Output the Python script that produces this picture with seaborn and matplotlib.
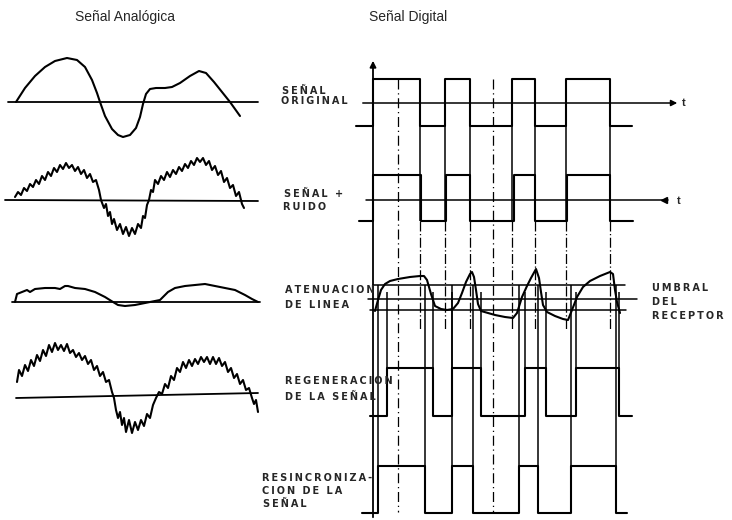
import numpy as np
import pandas as pd
import seaborn as sns
import matplotlib.pyplot as plt

sns.set_style("white")
plt.rcParams['font.family'] = ['Liberation Sans', 'DejaVu Sans']

# --- analog panel curves (x, y in picture units, y grows downward) ---
orig_x = [16, 25, 35, 45, 55, 67, 77, 85, 92, 97, 100, 105, 112, 118, 123, 130, 136, 140,
          143, 146, 150, 156, 165, 172, 180, 190, 199, 206, 214, 222, 230, 235, 240]
orig_y = [102, 88, 76, 67, 61, 58, 60, 67, 80, 93, 102, 116, 129, 135, 137, 135, 128, 117,
          104, 94, 89, 88, 88, 87, 83, 76, 71, 73, 82, 92, 102, 109, 116]

noisy_x = [15, 18, 21, 24, 27, 30, 33, 36, 39, 42, 45, 48, 51, 54, 57, 60, 63, 66, 69, 72,
           75, 78, 81, 84, 87, 90, 93, 96, 99, 101, 104, 106, 108, 110, 112, 114, 117, 120,
           123, 126, 129, 132, 135, 138, 141, 143, 145, 147, 149, 151, 153, 155, 158, 161,
           164, 167, 170, 173, 176, 179, 182, 185, 188, 191, 194, 197, 200, 203, 206, 209,
           212, 215, 218, 221, 224, 227, 230, 233, 236, 239, 242, 244]
noisy_y = [197, 192, 195, 188, 191, 184, 187, 180, 184, 176, 180, 172, 176, 168, 172, 165,
           169, 163, 168, 165, 171, 167, 174, 170, 178, 174, 182, 180, 190, 200, 208, 204,
           216, 212, 224, 219, 230, 224, 234, 227, 236, 228, 234, 224, 228, 216, 218, 205,
           200, 190, 192, 180, 184, 176, 180, 172, 177, 170, 174, 167, 171, 164, 168, 161,
           165, 158, 162, 158, 165, 161, 170, 166, 175, 171, 182, 178, 188, 185, 196, 192,
           204, 208]

atten_x = [15, 17, 22, 27, 30, 35, 45, 55, 60, 65, 68, 75, 85, 95, 105, 113, 118, 125,
           135, 145, 155, 160, 168, 175, 185, 195, 205, 215, 225, 235, 245, 252, 258]
atten_y = [302, 294, 292, 290, 292, 289, 288, 288, 289, 286, 286, 288, 289, 292, 297, 302,
           305, 306, 305, 303, 301, 300, 292, 288, 286, 285, 284, 286, 288, 290, 295, 299, 302]

regen_noisy_x = [17, 19, 22, 25, 28, 31, 34, 37, 40, 43, 46, 49, 52, 55, 58, 61, 64, 67,
                 70, 73, 76, 79, 82, 85, 88, 91, 94, 97, 100, 103, 106, 109, 112, 114, 116,
                 118, 120, 122, 124, 126, 129, 132, 135, 138, 141, 144, 147, 150, 153, 156,
                 159, 162, 165, 168, 171, 174, 177, 180, 183, 186, 189, 192, 195, 198, 201,
                 204, 207, 210, 213, 216, 219, 222, 225, 228, 231, 234, 237, 240, 243, 246,
                 249, 252, 254, 256, 258]
regen_noisy_y = [382, 370, 376, 365, 371, 360, 366, 355, 361, 350, 356, 345, 352, 343, 350,
                 345, 351, 344, 353, 350, 357, 353, 360, 356, 364, 360, 370, 366, 376, 372,
                 382, 380, 392, 398, 410, 418, 412, 425, 418, 432, 420, 433, 422, 430, 420,
                 426, 414, 418, 405, 398, 392, 394, 384, 388, 376, 380, 368, 372, 362, 368,
                 360, 366, 359, 364, 357, 362, 357, 364, 357, 364, 358, 366, 362, 372, 368,
                 378, 374, 384, 380, 390, 388, 398, 404, 400, 412]

# --- digital panel: edge positions of each square wave ---
orig_edges = [373, 420, 445, 470, 512, 535, 566, 610]
noise_edges = [373, 421, 446, 470, 514, 535, 567, 610]
regen_edges = [387, 433, 452, 481, 525, 546, 576, 619]
resync_edges = [378, 425, 452, 473, 519, 538, 571, 616]
clock_x = [398, 493]

line_x = [375, 378, 381, 385, 390, 398, 410, 420, 424, 427, 431, 435, 441, 447, 453, 458,
          462, 466, 470, 472, 474, 476, 478, 481, 488, 495, 505, 513, 517, 522, 527, 531,
          536, 539, 541, 543, 547, 555, 563, 568, 572, 577, 583, 590, 600, 610, 613, 615,
          617, 620]
line_y = [311, 300, 290, 284, 281, 279, 277, 276, 276, 280, 294, 306, 309, 310, 309, 303,
          293, 282, 274, 272, 277, 290, 304, 311, 313, 315, 317, 318, 313, 297, 286, 278,
          269, 278, 292, 305, 312, 316, 319, 320, 310, 297, 287, 281, 276, 272, 274, 290,
          302, 313]

fig = plt.figure(figsize=(7.32, 5.2), dpi=100)
ax = fig.add_axes([0, 0, 1, 1])

K = 'black'
LW = 1.5

# titles
ax.text(125, 17, 'Señal Analógica', ha='center', va='center', fontsize=10)
ax.text(408, 17, 'Señal Digital', ha='center', va='center', fontsize=10)

# analog baselines
for (x0, y0, x1, y1) in [(8, 102, 258, 102), (5, 200, 258, 201),
                         (12, 302, 260, 302), (16, 398, 258, 393)]:
    ax.plot([x0, x1], [y0, y1], color=K, lw=1.3)

for xs, ys in [(orig_x, orig_y), (noisy_x, noisy_y), (atten_x, atten_y),
               (regen_noisy_x, regen_noisy_y)]:
    df = pd.DataFrame({'x': xs, 'y': ys})
    sns.lineplot(data=df, x='x', y='y', sort=False, estimator=None,
                 color=K, lw=LW, ax=ax)


def square(edges, high, low, start, end, lw=LW):
    xs = [start] + edges + [end]
    ys = [low] + [high if i % 2 == 0 else low for i in range(len(edges))] + [low]
    ax.plot(xs, ys, drawstyle='steps-post', color=K, lw=lw)


# vertical axis
ax.annotate('', xy=(373, 58), xytext=(373, 520),
            arrowprops=dict(arrowstyle='-|>', color=K, lw=1.3, mutation_scale=9))

# row 1: original signal
ax.annotate('', xy=(680, 103), xytext=(360, 103),
            arrowprops=dict(arrowstyle='-|>', color=K, lw=1.1, mutation_scale=9))
ax.text(682, 103, 't', fontsize=8, fontweight='bold', va='center')
square(orig_edges, 79, 126, 356, 632)

# row 2: signal + noise
ax.plot([366, 668], [200, 200], color=K, lw=1.1)
ax.plot([664], [200], marker='<', color=K, ms=5)
ax.text(677, 201, 't', fontsize=8, fontweight='bold', va='center')
square(noise_edges, 175, 221, 359, 633)

# edges continue downward
ax.vlines(orig_edges[1:], 79, 221, color=K, lw=1.1)
ax.vlines(orig_edges[1:], 221, 330, color=K, lw=0.9, linestyles=(0, (8, 2, 1, 2)))
ax.vlines(clock_x, 79, 512, color=K, lw=0.9, linestyles=(0, (8, 3, 1, 3)))

# row 3: line attenuation with receiver thresholds
ax.plot([373, 625], [285, 285], color=K, lw=1.1)
ax.plot([368, 637], [299, 299], color=K, lw=1.1)
ax.plot([370, 626], [310, 310], color=K, lw=1.1)
ax.plot(line_x, line_y, color=K, lw=LW)

# row 4: regenerated signal
ax.vlines(regen_edges, 292, 416, color=K, lw=1.1)
square(regen_edges, 368, 416, 370, 632)

# row 5: resynchronised signal
ax.vlines(resync_edges, 285, 513, color=K, lw=1.1)
square(resync_edges, 466, 513, 362, 627)

# hand-lettered labels
lab = dict(fontsize=7, fontweight='bold', va='center', family=['DejaVu Sans'])


def spaced(s):
    return '\u2009'.join(s)


for x, y, s in [(282, 91, 'SEÑAL'), (281, 101, 'ORIGINAL'),
                (284, 194, 'SEÑAL +'), (283, 207, 'RUIDO'),
                (285, 290, 'ATENUACION'), (285, 305, 'DE LINEA'),
                (285, 381, 'REGENERACION'), (285, 397, 'DE LA SEÑAL'),
                (262, 478, 'RESINCRONIZA-'), (262, 491, 'CION DE LA'), (263, 504, 'SEÑAL'),
                (652, 288, 'UMBRAL'), (652, 302, 'DEL'), (652, 316, 'RECEPTOR')]:
    ax.text(x, y, spaced(s), **lab)

ax.set_xlim(0, 732)
ax.set_ylim(520, 0)
ax.axis('off')

fig.savefig('out.png', dpi=100)
